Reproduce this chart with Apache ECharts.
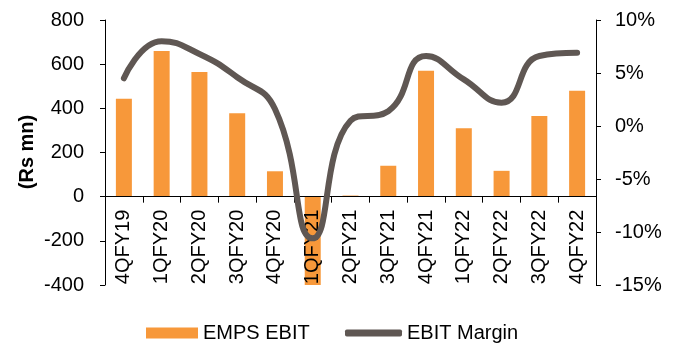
<!DOCTYPE html>
<html>
<head>
<meta charset="utf-8">
<script src="https://cdn.jsdelivr.net/npm/echarts@6/dist/echarts.min.js"></script>
<style>
  html, body { margin: 0; padding: 0; background: #fff; }
  #main { width: 681px; height: 347px; }
</style>
</head>
<body>
<div id="main"></div>
<script>
// 季度
var quarters = ['4QFY19', '1QFY20', '2QFY20', '3QFY20', '4QFY20', '1QFY21', '2QFY21',
    '3QFY21', '4QFY21', '1QFY22', '2QFY22', '3QFY22', '4QFY22'];
// EMPS EBIT (Rs mn)
var ebit = [443, 660, 565, 378, 115, -400, 5, 140, 570, 310, 117, 365, 480];
// EBIT Margin (%)
var margin = [4.5, 8.0, 6.8, 4.6, 1.6, -10.6, 0.5, 1.4, 6.6, 4.4, 2.2, 6.6, 6.9];

var leftTicks = { min: -400, max: 800, step: 200 };
var rightTicks = { min: -15, max: 10, step: 5 };

var myChart = echarts.init(document.getElementById('main'));
var font = 'Liberation Sans, Arial, sans-serif';
var fs = 20;
var legendText = { fontSize: fs, color: '#000', fontFamily: font };

var gridTop = 20, gridBottom = 62, chartH = 347;
var plotH = chartH - gridTop - gridBottom;
// 把x轴移到0的位置
var zeroOffset = -plotH * (0 - leftTicks.min) / (leftTicks.max - leftTicks.min);

var option = {
    animation: false,
    textStyle: { fontFamily: font },
    grid: { left: 105, right: 85, top: gridTop, bottom: gridBottom, containLabel: false, outerBoundsMode: 'none' },
    legend: [
        {
            left: 146,
            top: 323,
            padding: 0,
            itemWidth: 52,
            itemHeight: 11,
            textStyle: legendText,
            data: [{ name: 'EMPS EBIT', icon: 'rect' }]
        },
        {
            left: 345,
            top: 323,
            padding: 0,
            itemWidth: 57,
            itemHeight: 7,
            itemGap: 3,
            textStyle: legendText,
            data: [{ name: 'EBIT Margin', icon: 'roundRect' }]
        }
    ],
    xAxis: {
        type: 'category',
        data: quarters,
        z: 2,
        position: 'bottom',
        offset: zeroOffset,
        axisLine: { onZero: false, lineStyle: { color: '#000', width: 1 } },
        axisTick: { show: true, length: 6, lineStyle: { color: '#000' } },
        axisLabel: { rotate: 90, interval: 0, fontSize: fs, color: '#000', margin: 13, fontFamily: font }
    },
    yAxis: [
        {
            type: 'value',
            min: leftTicks.min,
            max: leftTicks.max,
            interval: leftTicks.step,
            splitLine: { show: false },
            axisLine: { show: true, onZero: false, lineStyle: { color: '#000' } },
            axisTick: { show: true, length: 5, lineStyle: { color: '#000' } },
            axisLabel: { fontSize: fs, color: '#000', margin: 21, fontFamily: font }
        },
        {
            type: 'value',
            min: rightTicks.min,
            max: rightTicks.max,
            interval: rightTicks.step,
            splitLine: { show: false },
            axisLine: { show: true, onZero: false, lineStyle: { color: '#000' } },
            axisTick: { show: true, length: 5, lineStyle: { color: '#000' } },
            axisLabel: { fontSize: fs, color: '#000', margin: 19, formatter: '{value}%', fontFamily: font }
        }
    ],
    graphic: [
        {
            type: 'text',
            x: 27,
            y: 152,
            rotation: Math.PI / 2,
            style: {
                text: '(Rs mn)',
                fontSize: 20,
                fontWeight: 'bold',
                fontFamily: font,
                fill: '#000',
                align: 'center',
                verticalAlign: 'middle'
            }
        }
    ],
    series: [
        {
            name: 'EMPS EBIT',
            type: 'bar',
            z: 1,
            barWidth: 16,
            itemStyle: { color: '#F7983A' },
            data: ebit
        },
        {
            name: 'EBIT Margin',
            type: 'line',
            yAxisIndex: 1,
            z: 3,
            smooth: 0.5,
            symbol: 'none',
            lineStyle: { color: '#5F5753', width: 6, cap: 'round' },
            itemStyle: { color: '#5F5753' },
            data: margin
        }
    ]
};

myChart.setOption(option);
</script>
</body>
</html>
